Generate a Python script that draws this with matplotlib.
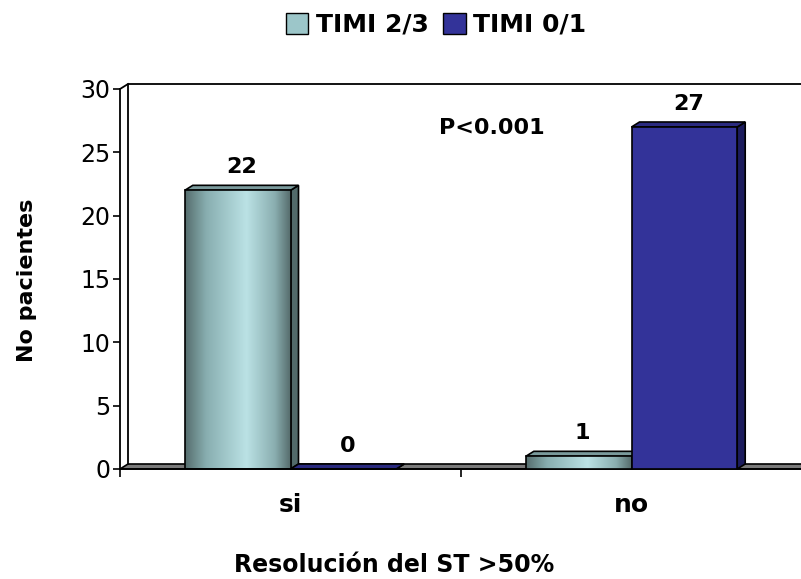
import numpy as np
import matplotlib.pyplot as plt
from matplotlib.patches import Patch, Polygon

# data
categories = ['si', 'no']
series_names = ['TIMI 2/3', 'TIMI 0/1']
timi_23 = [22, 1]
timi_01 = [0, 27]
p_text = 'P<0.001'

W, H = 801, 579
fig = plt.figure(figsize=(W / 100, H / 100), dpi=100)
ax_left, ax_bottom = 120 / W, 1 - 469 / H
ax_w, ax_h = 682 / W, 380 / H
ax = fig.add_axes([ax_left, ax_bottom, ax_w, ax_h])

xmin, xmax = -0.5, len(categories) - 0.5
ax.set_xlim(xmin, xmax)
ax.set_ylim(0, 30)

# 3d depth in data units (about 8 px right, 5 px up)
ddx = 8 * (xmax - xmin) / (ax_w * W)
ddy = 5 * 30 / (ax_h * H)

x = np.arange(len(categories))
bw = 0.31

# floor
floor = Polygon([(xmin, 0), (xmax, 0), (xmax + ddx, ddy), (xmin + ddx, ddy)],
                closed=True, facecolor='#7a7a7a', edgecolor='black', lw=1.2,
                zorder=1, clip_on=False)
ax.add_patch(floor)
# back wall outline
ax.plot([xmin + ddx, xmin + ddx, xmax + ddx], [ddy, 30 + ddy, 30 + ddy],
        color='black', lw=1.3, clip_on=False, zorder=1)
ax.plot([xmin, xmin + ddx], [30, 30 + ddy], color='black', lw=1.3,
        clip_on=False, zorder=1)

# gradient for the teal bars
grad_pos = np.array([0.0, 0.2, 0.58, 0.85, 1.0])
grad_col = np.array([[0x56, 0x6e, 0x6e], [0x88, 0xae, 0xb0], [0xbb, 0xe2, 0xe5],
                     [0x8a, 0xae, 0xb0], [0x55, 0x6b, 0x6b]]) / 255
t = np.linspace(0, 1, 200)
grad = np.stack([np.interp(t, grad_pos, grad_col[:, k]) for k in range(3)], axis=-1)[None, :, :]

def bar3d(x0, h, front, side, top, gradient=False, z=2):
    x1 = x0 + bw
    ax.add_patch(Polygon([(x1, 0), (x1 + ddx, ddy), (x1 + ddx, h + ddy), (x1, h)],
                         closed=True, facecolor=side, edgecolor='black', lw=1.2,
                         zorder=z, clip_on=False))
    ax.add_patch(Polygon([(x0, h), (x1, h), (x1 + ddx, h + ddy), (x0 + ddx, h + ddy)],
                         closed=True, facecolor=top, edgecolor='black', lw=1.2,
                         zorder=z, clip_on=False))
    if gradient and h > 0:
        ax.imshow(grad, extent=(x0, x1, 0, h), aspect='auto', zorder=z + 0.1,
                  interpolation='bilinear')
        ax.bar(x0, h, bw, align='edge', facecolor='none', edgecolor='black',
               lw=1.2, zorder=z + 0.2)
    else:
        ax.bar(x0, h, bw, align='edge', color=front, edgecolor='black',
               lw=1.2, zorder=z + 0.2)

for i in range(len(categories)):
    bar3d(x[i] - bw, timi_23[i], None, '#526a6a', '#7a9a9c', gradient=True, z=2 + i)
    bar3d(x[i], timi_01[i], '#333399', '#1c1c5e', '#2a2a80', z=2.5 + i)

ax.set_xlim(xmin, xmax)
ax.set_ylim(0, 30)

# value labels
for i in range(len(categories)):
    for xs, v in ((x[i] - bw / 2, timi_23[i]), (x[i] + bw / 2, timi_01[i])):
        ax.annotate(str(v), (xs + ddx / 2, v + ddy), xytext=(0, 13),
                    textcoords='offset points', ha='center', va='center',
                    fontsize=16, fontweight='bold', annotation_clip=False)

ax.text(0.59, 26.9, p_text, ha='center', va='center', fontsize=16,
        fontweight='bold')

# axes styling
for s in ['top', 'right']:
    ax.spines[s].set_visible(False)
for s in ['left', 'bottom']:
    ax.spines[s].set_linewidth(1.3)
ax.set_yticks(np.arange(0, 31, 5))
ax.tick_params(axis='y', length=5, width=1.2, pad=2, labelsize=17)
ax.set_xticks(np.arange(xmin, xmax + 0.01, 1.0))
ax.set_xticklabels([])
ax.tick_params(axis='x', which='major', length=6, width=1.2)
ax.set_xticks(x, minor=True)
ax.set_xticklabels(categories, minor=True, fontsize=18, fontweight='bold')
ax.tick_params(axis='x', which='minor', length=0, pad=17)

fig.text(27 / W, 1 - 280 / H, 'No pacientes', rotation=90, ha='center',
         va='center', fontsize=16, fontweight='bold')
fig.text(394 / W, 1 - 565 / H, 'Resolución del ST >50%', ha='center',
         va='center', fontsize=17, fontweight='bold')

handles = [Patch(facecolor='#9cc6c9', edgecolor='black', lw=1),
           Patch(facecolor='#333399', edgecolor='black', lw=1)]
fig.legend(handles, series_names, loc='center', bbox_to_anchor=(436 / W, 1 - 25 / H),
           ncol=2, frameon=False, fontsize=18, prop={'weight': 'bold', 'size': 18},
           handlelength=0.9, handleheight=0.9, handletextpad=0.3, columnspacing=0.6)

fig.savefig('out.png', dpi=100)
